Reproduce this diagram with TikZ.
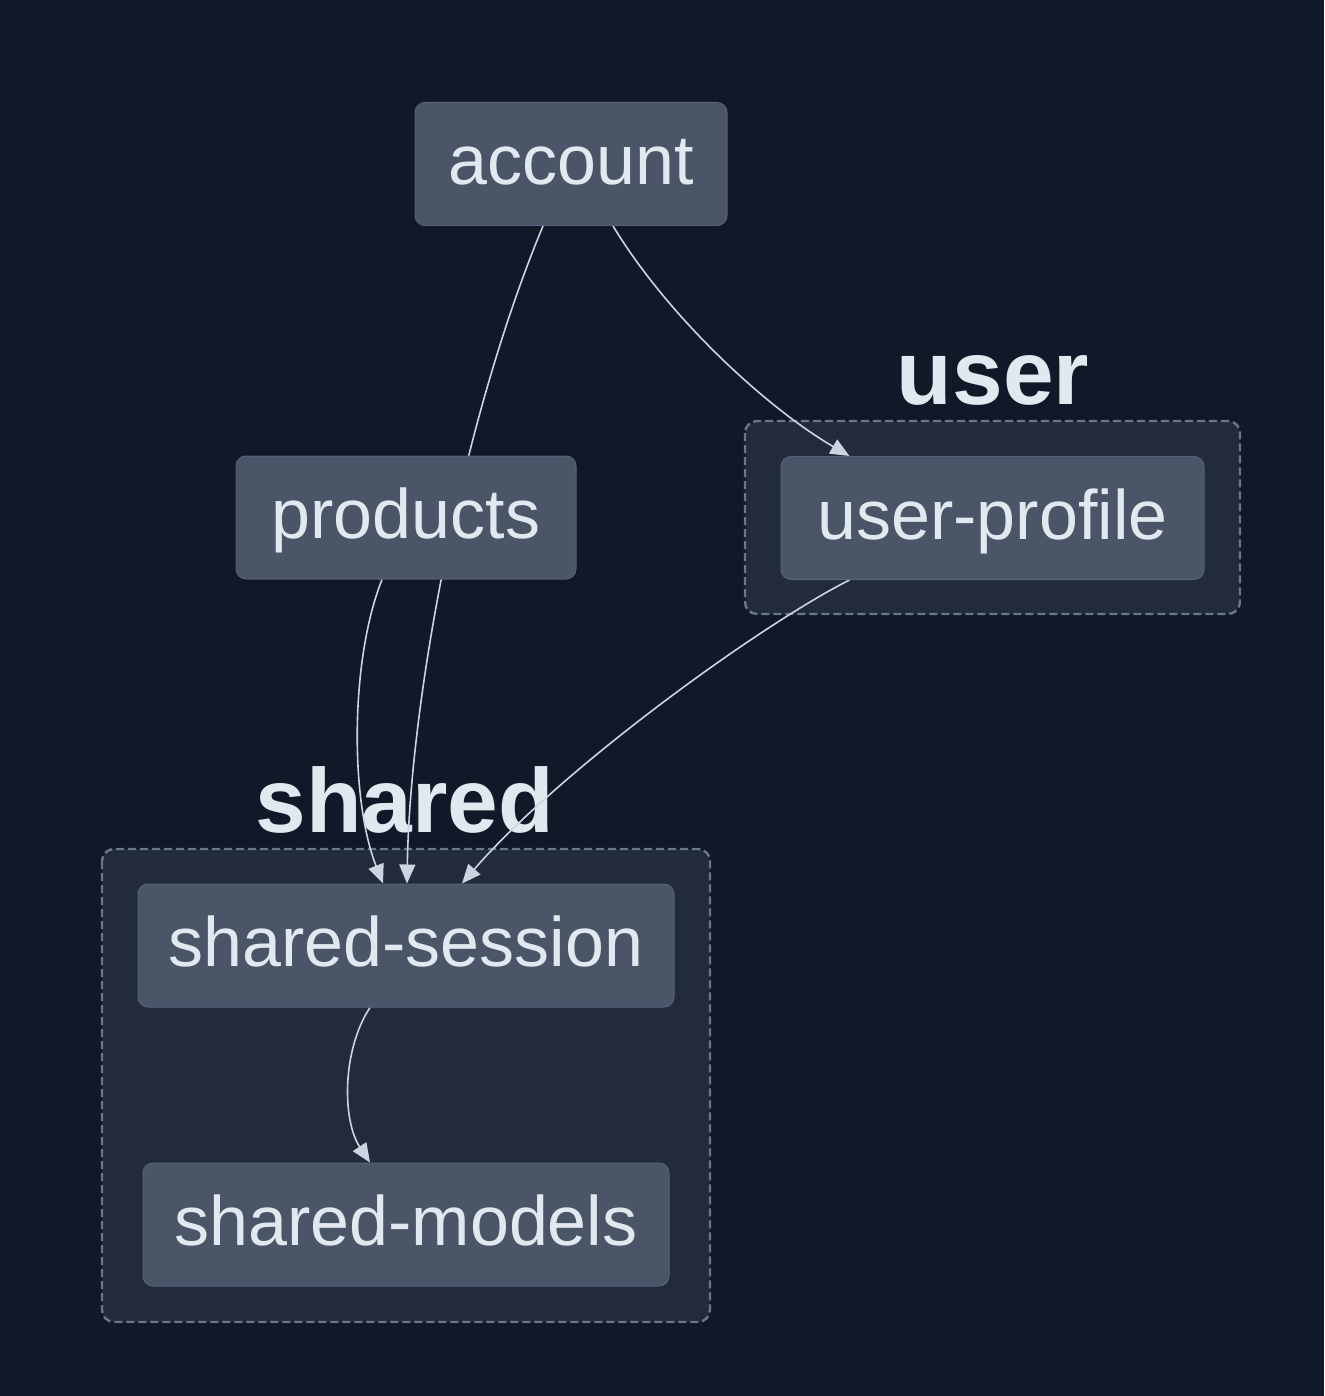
\documentclass[tikz,border=0pt]{standalone}
\usepackage{fontspec}
\setmainfont{Liberation Sans}
\usetikzlibrary{arrows.meta,calc}

\definecolor{bgcol}{HTML}{111827}
\definecolor{grpfill}{HTML}{222B3C}
\definecolor{grpline}{HTML}{68778C}
\definecolor{boxfill}{HTML}{4A5568}
\definecolor{boxline}{HTML}{56617A}
\definecolor{txtcol}{HTML}{E2E8F0}
\definecolor{edgecol}{HTML}{CBD5E1}

\pgfdeclarelayer{back}
\pgfdeclarelayer{edges}
\pgfsetlayers{back,edges,main}

\tikzset{
  module/.style={draw=boxline, line width=0.5pt, fill=boxfill, rounded corners=5pt,
    text=txtcol, font=\fontsize{35}{42}\selectfont, inner sep=0pt,
    text height=28pt, text depth=7pt, minimum height=61.5pt},
  grp/.style={draw=grpline, fill=grpfill, line width=1.2pt,
    dash pattern=on 4pt off 2pt, rounded corners=6pt},
  grplabel/.style={text=txtcol, font=\fontsize{45.5}{50}\selectfont\bfseries,
    inner sep=0pt, anchor=base},
  dep/.style={draw=edgecol, line width=0.8pt, -{Triangle[length=9.5pt,width=8pt]}},
}

\begin{document}
\begin{tikzpicture}[x=0.5pt,y=-0.5pt]
  \useasboundingbox (0,0) rectangle (1324,1396);

  % ------ modules ------
  \node[module, minimum width=156pt]   (account)  at (571,164)    {account};
  \node[module, minimum width=170pt]   (products) at (406,517.5)  {products};
  \node[module, minimum width=211.5pt] (profile)  at (992.5,518)  {user-profile};
  \node[module, minimum width=268pt]   (session)  at (406,945.5)  {shared-session};
  \node[module, minimum width=263pt]   (models)   at (406,1224.5) {shared-models};

  % ------ groups ------
  \begin{pgfonlayer}{back}
    \fill[bgcol] (0,0) rectangle (1324,1396);
    \draw[grp] (745,421) rectangle (1240,614);
    \node[grplabel] (user) at (993,404) {user};
    \draw[grp] (102,849) rectangle (710,1322);
    \node[grplabel] (shared) at (405,832) {shared};
  \end{pgfonlayer}

  % ------ dependencies ------
  \begin{pgfonlayer}{edges}
    \draw[dep] ($(account.south)+(42,0)$) .. controls (670,320) and (770,410) .. ($(profile.north west)+(69,0)$);
    \draw[dep] ($(account.south)+(-28,0)$) .. controls (462,420) and (410,700) .. ($(session.north)+(1,0)$);
    \draw[dep] ($(products.south)+(-24,0)$) .. controls (350,660) and (350,800) .. ($(session.north)+(-23,0)$);
    \draw[dep] ($(profile.south west)+(69,0)$) .. controls (760,625) and (560,770) .. ($(session.north)+(56,0)$);
    \draw[dep] ($(session.south)+(-36,0)$) .. controls (342,1050) and (342,1120) .. ($(models.north)+(-36,0)$);
  \end{pgfonlayer}
\end{tikzpicture}
\end{document}
